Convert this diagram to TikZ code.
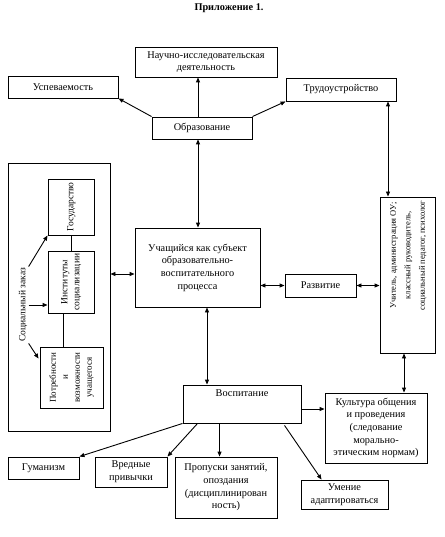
\documentclass[tikz,border=0pt]{standalone}
\usepackage{fontspec}
\usepackage{graphicx}
\setmainfont{Liberation Serif}
\usetikzlibrary{arrows.meta,calc}
\newcommand{\vtxt}[1]{\rotatebox{90}{\begin{tabular}{@{}c@{}}#1\end{tabular}}}
\begin{document}
\begin{tikzpicture}[x=1pt,y=-1pt,
  font=\fontsize{10.3}{12.7}\selectfont,
  line width=0.9pt,
  >={Triangle[length=5pt,width=4pt]},
  box/.style={draw, inner sep=2pt, align=center},
  small/.style={font=\fontsize{9.5}{12}\selectfont},
  tiny/.style={font=\fontsize{8.5}{14.5}\selectfont}]
\useasboundingbox (0,0) rectangle (444,537);

\node[font=\fontsize{10.3}{12.7}\bfseries] (title) at (229,8) {Приложение 1.};

\node[box, minimum width=142pt, minimum height=30pt] (nauch) at (206,62) {Научно-исследовательская\\деятельность};
\node[box, minimum width=110pt, minimum height=22pt] (usp) at (63,87) {Успеваемость};
\node[box, minimum width=110pt, minimum height=23pt] (trud) at (341,89.5) {Трудоустройство};
\node[box, minimum width=100pt, minimum height=22pt] (obr) at (202,128) {Образование};

\node[box, minimum width=102pt, minimum height=268pt] (social) at (59,297) {};
\node[box, small, minimum width=46pt, minimum height=56pt] (gos) at (71,207) {\vtxt{Государство}};
\node[box, small, minimum width=46pt, minimum height=62pt] (inst) at (71,282) {\vtxt{Институты\\социализации}};
\node[box, font=\fontsize{9}{12}\selectfont, minimum width=63pt, minimum height=61pt] (potr) at (71.5,377.5) {\vtxt{Потребности\\и\\возможности\\учащегося}};
\node[small, inner sep=1pt] (soc) at (23,305) {\rotatebox{90}{Социальный заказ}};

\node[box, minimum width=125pt, minimum height=79pt] (uch) at (197.5,267.5) {Учащийся как субъект\\образовательно-\\воспитательного\\процесса};
\node[box, minimum width=71pt, minimum height=23pt] (razv) at (320.5,285.5) {Развитие};
\node[box, minimum width=55pt, minimum height=156pt] (uchitel) at (407.5,275) {};
\node[tiny] (uchitelT) at (407.5,255.5) {\vtxt{Учитель, администрация ОУ;\\классный руководитель,\\социальный педагог, психолог}};

\node[box, minimum width=118pt, minimum height=38pt, text height=8pt, text depth=23pt] (vosp) at (242,404) {Воспитание};
\node[box, minimum width=102pt, minimum height=70pt] (kult) at (376,428) {Культура общения\\и проведения\\(следование\\морально-\\этическим нормам)};

\node[box, minimum width=71pt, minimum height=22pt] (gum) at (43.5,468) {Гуманизм};
\node[box, minimum width=72pt, minimum height=30pt] (vred) at (131,472) {Вредные\\привычки};
\node[box, minimum width=102pt, minimum height=61pt] (prop) at (226,487.5) {Пропуски занятий,\\опоздания\\(дисциплинирован\\ность)};
\node[box, minimum width=87pt, minimum height=29pt] (umen) at (344.5,494.5) {Умение\\адаптироваться};

% helper coordinates
\coordinate (obrN) at ($(obr.north)+(-4,0)$);
\coordinate (obrS) at ($(obr.south)+(-4,0)$);
\coordinate (trudX) at ($(uchitel.north)+(-19.5,0)$);
\coordinate (uchW) at ($(uch.west)+(0,6.5)$);
\coordinate (uchS) at ($(uch.south)+(9.5,0)$);
\coordinate (uchitelS) at ($(uchitel.south)+(-3.5,0)$);
\coordinate (vospE) at ($(vosp.east)+(0,5)$);
\coordinate (vospS1) at ($(vosp.south west)+(15,0)$);
\coordinate (vospS2) at ($(vosp.south west)+(37,0)$);
\coordinate (vospS3) at ($(vosp.south west)+(102,2)$);
\coordinate (umenN) at ($(umen.north west)+(21,0)$);
\coordinate (potrW) at ($(potr.north west)+(-1,12)$);
\coordinate (instS) at ($(inst.south)+(-8,0)$);

% top arrows
\draw[->] (obrN) -- (obrN |- nauch.south);
\draw[->] (obr.north west) -- (usp.south east);
\draw[->] (obr.north east) -- (trud.south west);
\draw[<->] (obrS) -- (obrS |- uch.north);
\draw[<->] (trudX |- trud.south) -- (trudX);

% social block
\draw (gos.south) -- (inst.north);
\draw (instS) -- (instS |- potr.north);
\draw[->] (soc.north east) -- (gos.south west);
\draw[->] (soc.east) -- (soc.east -| inst.west);
\draw[->] (soc.south east) -- (potrW);
\draw[<->] (uchW -| social.east) -- (uchW);

% middle
\draw[<->] (uch.east |- razv.west) -- (razv.west);
\draw[<->] (razv.east) -- (razv.east -| uchitel.west);
\draw[<->] (uchS) -- (uchS |- vosp.north);
\draw[<->] (uchitelS) -- (uchitelS |- kult.north);
\draw[->] (vospE) -- (vospE -| kult.west);

% bottom
\draw[->] (vosp.south west) -- (gum.north east);
\draw[->] (vospS1) -- (vred.north east);
\draw[->] (vospS2) -- (vospS2 |- prop.north);
\draw[->] (vospS3) -- (umenN);
\end{tikzpicture}
\end{document}
